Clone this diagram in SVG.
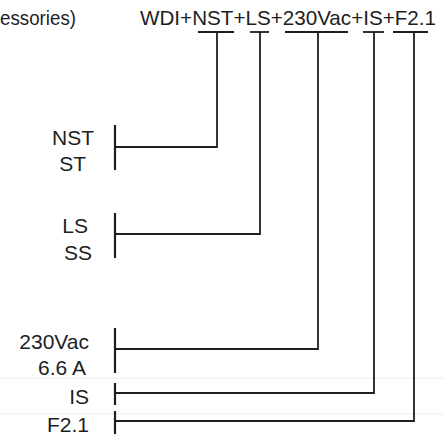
<svg xmlns="http://www.w3.org/2000/svg" width="444" height="437" viewBox="0 0 444 437">
<style>
text{font-family:"Liberation Sans",Arial,sans-serif;font-size:21px;fill:#1e1e1e}
.lbl{text-anchor:end}
.ln{stroke:#1e1e1e;stroke-width:1.8;fill:none;stroke-linecap:butt}
.bar{stroke:#1e1e1e;stroke-width:2.2;fill:none}
.scan{stroke:#ececec;stroke-width:1}
</style>
<rect width="444" height="437" fill="#ffffff"/>
<g id="scanlines">
<line class="scan" x1="0" y1="378" x2="444" y2="378"/>
<line class="scan" x1="0" y1="414" x2="444" y2="414"/>
</g>
<g id="header">
<text x="0" y="25" textLength="76" lengthAdjust="spacingAndGlyphs">essories)</text>
<text x="140" y="25" textLength="296" lengthAdjust="spacingAndGlyphs">WDI+NST+LS+230Vac+IS+F2.1</text>
</g>
<g id="node-nst">
<text class="lbl" x="94" y="145">NST</text>
<text class="lbl" x="86" y="171">ST</text>
<line class="bar" x1="115" y1="125" x2="115" y2="170"/>
</g>
<g id="node-ls">
<text class="lbl" x="88" y="233">LS</text>
<text class="lbl" x="92" y="260">SS</text>
<line class="bar" x1="115" y1="213" x2="115" y2="258"/>
</g>
<g id="node-230vac">
<text class="lbl" x="89" y="349">230Vac</text>
<text class="lbl" x="86" y="375">6.6 A</text>
<line class="bar" x1="115" y1="328" x2="115" y2="373"/>
</g>
<g id="node-is">
<text class="lbl" x="89" y="404">IS</text>
<line class="bar" x1="115" y1="383" x2="115" y2="405"/>
</g>
<g id="node-f21">
<text class="lbl" x="89" y="432">F2.1</text>
<line class="bar" x1="115" y1="411" x2="115" y2="434"/>
</g>
<g id="connectors">
<line class="ln" x1="198" y1="32" x2="234" y2="32"/>
<polyline class="ln" points="217,32 217,147 115,147"/>
<line class="ln" x1="250" y1="32" x2="269" y2="32"/>
<polyline class="ln" points="260,32 260,234 115,234"/>
<line class="ln" x1="285" y1="32" x2="348" y2="32"/>
<polyline class="ln" points="318,32 318,349 115,349"/>
<line class="ln" x1="363" y1="32" x2="384" y2="32"/>
<polyline class="ln" points="374,32 374,393 115,393"/>
<line class="ln" x1="393" y1="32" x2="428" y2="32"/>
<polyline class="ln" points="414,32 414,421 115,421"/>
</g>
</svg>
